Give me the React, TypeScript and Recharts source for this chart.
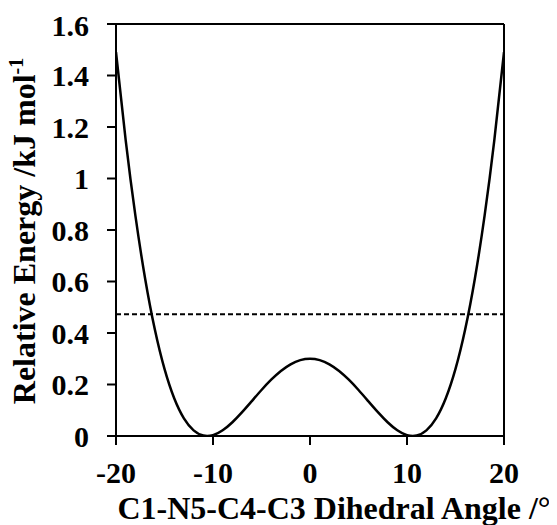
import React from "react";
import { LineChart, Line, XAxis, YAxis, ReferenceLine } from "recharts";

const angles = [-20, -19, -18, -17, -16, -15, -14, -13, -12, -11, -10, -9, -8, -7, -6, -5, -4, -3, -2, -1, 0,
  1, 2, 3, 4, 5, 6, 7, 8, 9, 10, 11, 12, 13, 14, 15, 16, 17, 18, 19, 20];
const energies = [1.4903, 1.1482, 0.8558, 0.6118, 0.4144, 0.2605, 0.1465, 0.0684, 0.0217, 0.0016, 0.0034,
  0.0222, 0.0534, 0.0926, 0.1355, 0.1786, 0.2185, 0.2525, 0.2783, 0.2945, 0.3,
  0.2945, 0.2783, 0.2525, 0.2185, 0.1786, 0.1355, 0.0926, 0.0534, 0.0222, 0.0034,
  0.0016, 0.0217, 0.0684, 0.1465, 0.2605, 0.4144, 0.6118, 0.8558, 1.1482, 1.4903];
const xTicks = [-20, -10, 0, 10, 20];
const yTicks = [0, 0.2, 0.4, 0.6, 0.8, 1, 1.2, 1.4, 1.6];
const thresholdEnergy = 0.4726;

const data = angles.map((a, i) => ({ angle: a, energy: energies[i] }));

const FONT = "'Liberation Serif', 'Times New Roman', serif";
const tickStyle = { fill: "#000", fontFamily: FONT, fontWeight: 700, fontSize: 30 };

const YTitle = () => (
  <text
    x={27}
    y={223}
    transform="rotate(-90, 27, 223)"
    textAnchor="middle"
    fontFamily={FONT}
    fontWeight={700}
    fontSize={32}
    fill="#000"
  >
    Relative Energy /kJ mol
    <tspan dy={-12} fontSize={20}>-1</tspan>
  </text>
);

const XTitle = () => (
  <text
    x={326}
    y={511}
    textAnchor="middle"
    fontFamily={FONT}
    fontWeight={700}
    fontSize={32}
    fill="#000"
  >
    C1-N5-C4-C3 Dihedral Angle /°
  </text>
);

export default function App() {
  return (
    <LineChart
      width={549}
      height={517}
      data={data}
      margin={{ top: 16, right: 53, left: 0, bottom: 29 }}
    >
      <XAxis
        dataKey="angle"
        type="number"
        domain={[-20, 20]}
        ticks={xTicks}
        allowDataOverflow
        height={60}
        tickSize={9}
        tickMargin={17}
        axisLine={{ stroke: "#000", strokeWidth: 2 }}
        tickLine={{ stroke: "#000", strokeWidth: 2 }}
        tick={tickStyle}
        label={{ content: () => <XTitle /> }}
      />
      <YAxis
        type="number"
        domain={[0, 1.6]}
        ticks={yTicks}
        allowDataOverflow
        width={108}
        tickSize={9}
        tickMargin={18}
        axisLine={{ stroke: "#000", strokeWidth: 2 }}
        tickLine={{ stroke: "#000", strokeWidth: 2 }}
        tick={tickStyle}
        label={{ content: () => <YTitle /> }}
      />
      <ReferenceLine y={1.6} stroke="#000" strokeWidth={2} />
      <ReferenceLine x={20} stroke="#000" strokeWidth={2} />
      <ReferenceLine y={thresholdEnergy} stroke="#000" strokeWidth={2} strokeDasharray="5 3" />
      <Line
        type="natural"
        dataKey="energy"
        stroke="#000"
        strokeWidth={2.5}
        dot={false}
        isAnimationActive={false}
      />
    </LineChart>
  );
}
